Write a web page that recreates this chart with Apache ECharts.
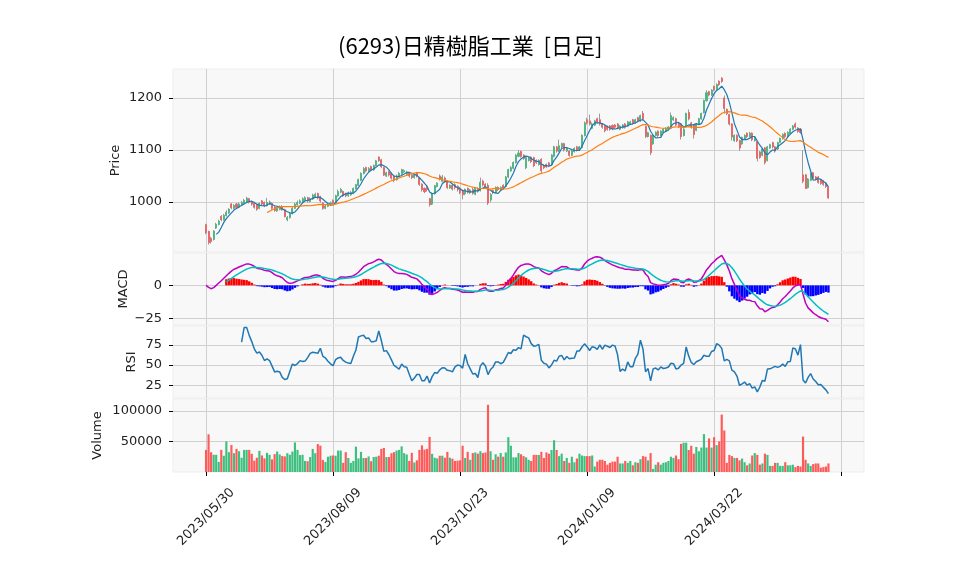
<!DOCTYPE html>
<html>
<head>
<meta charset="utf-8">
<script src="https://cdn.jsdelivr.net/npm/echarts@6/dist/echarts.min.js"></script>
<style>
  html, body { margin: 0; padding: 0; background: #fff; }
  #main { width: 958px; height: 575px; }
</style>
</head>
<body>
<div id="main"></div>
<script>
// 日足データ（2023/05/30 から 246 営業日）
const tickDates = ['2023/05/30', '2023/08/09', '2023/10/23', '2024/01/09', '2024/03/22'];
const tickEvery = 50; // 営業日ごとの目盛り

// [始値, 終値, 安値, 高値]
const ohlc = [
  [956,941,938,958],[943,922,918,945],[930,924,920,933],[928,944,926,946],[950,957,948,960],
  [957,963,955,966],[972,966,963,975],[966,974,964,977],[974,980,972,984],[979,986,977,988],
  [996,989,986,998],[988,993,986,996],[996,990,987,998],[990,996,988,999],[995,999,993,1002],
  [998,1003,996,1006],[1000,1007,998,1010],[1006,1000,997,1008],[1001,996,993,1003],[997,990,987,999],
  [994,986,983,996],[988,997,986,999],[1002,996,993,1004],[999,993,990,1001],[993,999,991,1008],
  [996,1000,994,1003],[997,988,985,999],[990,984,981,992],[983,988,981,991],[986,991,984,993],
  [991,985,983,994],[985,972,970,987],[966,970,963,973],[970,978,968,980],[978,988,976,990],
  [988,996,986,998],[995,999,993,1003],[998,1002,996,1005],[1000,1006,998,1009],[1004,1008,1002,1011],
  [1008,1002,999,1010],[1001,1006,999,1009],[1006,1013,1004,1016],[1010,1015,1008,1018],[1016,1008,1005,1018],
  [1010,1002,999,1012],[998,988,985,1000],[988,992,986,995],[992,995,990,998],[994,998,992,1001],
  [1003,998,995,1005],[999,1012,997,1014],[1012,1020,1010,1024],[1019,1024,1017,1027],[1020,1012,1010,1022],
  [1016,1012,1009,1018],[1012,1017,1010,1020],[1014,1018,1012,1021],[1017,1026,1015,1028],[1026,1033,1024,1035],
  [1032,1043,1030,1045],[1042,1055,1040,1057],[1055,1064,1053,1067],[1066,1060,1057,1068],[1060,1064,1058,1067],
  [1068,1062,1060,1070],[1062,1070,1060,1072],[1070,1079,1068,1081],[1086,1080,1077,1088],[1081,1068,1065,1083],
  [1066,1052,1050,1068],[1050,1056,1048,1058],[1058,1052,1049,1060],[1055,1046,1043,1057],[1050,1042,1038,1052],
  [1043,1050,1041,1053],[1049,1055,1047,1058],[1054,1062,1052,1064],[1058,1060,1056,1063],[1053,1057,1051,1060],
  [1056,1050,1047,1058],[1051,1047,1044,1053],[1047,1052,1045,1054],[1056,1050,1047,1058],[1046,1034,1031,1048],
  [1034,1024,1020,1036],[1026,1020,1017,1028],[1028,1024,1020,1031],[1006,995,991,1008],[996,1016,994,1018],
  [1016,1031,1014,1033],[1030,1036,1028,1038],[1050,1044,1041,1053],[1040,1048,1038,1052],[1046,1040,1037,1049],
  [1040,1028,1025,1042],[1027,1032,1025,1034],[1032,1025,1022,1034],[1033,1028,1024,1036],[1030,1024,1020,1032],
  [1026,1018,1015,1029],[1022,1014,1005,1024],[1016,1024,1013,1026],[1026,1019,1016,1028],[1018,1023,1015,1025],
  [1024,1017,1014,1027],[1015,1026,1013,1028],[1026,1021,1018,1028],[1022,1038,1020,1047],[1040,1033,1030,1043],
  [1034,1030,1027,1036],[1032,998,994,1036],[1004,1014,1000,1017],[1022,1018,1015,1024],[1018,1028,1016,1030],
  [1028,1024,1021,1030],[1023,1028,1021,1030],[1032,1027,1024,1034],[1030,1048,1028,1050],[1048,1062,1046,1064],
  [1060,1066,1058,1069],[1065,1076,1063,1078],[1076,1090,1074,1092],[1088,1094,1086,1100],[1097,1088,1085,1099],
  [1090,1084,1081,1092],[1066,1085,1063,1087],[1080,1084,1078,1087],[1086,1078,1075,1088],[1085,1070,1067,1087],
  [1080,1076,1073,1082],[1072,1080,1070,1082],[1082,1060,1056,1084],[1070,1066,1063,1072],[1072,1068,1065,1074],
  [1075,1070,1067,1077],[1072,1090,1070,1092],[1088,1106,1086,1108],[1106,1098,1095,1108],[1098,1108,1096,1120],
  [1106,1112,1104,1114],[1112,1100,1097,1114],[1098,1104,1096,1106],[1098,1090,1087,1100],[1090,1098,1088,1100],
  [1097,1103,1095,1105],[1106,1100,1097,1108],[1100,1106,1098,1108],[1105,1128,1103,1130],[1128,1152,1126,1155],
  [1158,1152,1149,1162],[1156,1150,1147,1168],[1142,1150,1140,1153],[1148,1156,1146,1158],[1160,1154,1151,1162],
  [1158,1150,1147,1170],[1150,1144,1141,1152],[1146,1137,1134,1148],[1145,1140,1137,1147],[1146,1140,1137,1148],
  [1147,1141,1138,1149],[1148,1144,1141,1150],[1150,1143,1140,1152],[1140,1146,1138,1148],[1143,1148,1141,1150],
  [1150,1144,1141,1152],[1146,1154,1144,1156],[1150,1154,1148,1156],[1158,1152,1149,1160],[1152,1158,1150,1160],
  [1162,1156,1153,1164],[1156,1166,1154,1168],[1170,1160,1157,1175],[1145,1126,1123,1147],[1126,1133,1124,1135],
  [1128,1095,1090,1130],[1112,1128,1110,1130],[1128,1134,1126,1136],[1136,1128,1125,1138],[1128,1136,1126,1138],
  [1134,1140,1132,1142],[1136,1142,1134,1144],[1140,1144,1138,1146],[1142,1166,1140,1172],[1158,1162,1156,1165],
  [1160,1148,1145,1162],[1150,1145,1142,1152],[1150,1126,1120,1152],[1128,1140,1126,1142],[1145,1170,1143,1172],
  [1172,1160,1157,1178],[1152,1144,1141,1154],[1148,1130,1122,1150],[1138,1150,1136,1152],[1150,1160,1148,1162],
  [1160,1170,1158,1172],[1172,1195,1170,1197],[1195,1210,1193,1215],[1212,1206,1203,1214],[1206,1215,1204,1217],
  [1222,1216,1213,1224],[1216,1226,1214,1228],[1232,1226,1223,1234],[1238,1232,1229,1240],[1200,1180,1170,1205],
  [1178,1170,1167,1180],[1168,1150,1147,1170],[1150,1125,1118,1152],[1118,1128,1116,1130],[1128,1118,1115,1130],
  [1118,1104,1098,1120],[1112,1124,1110,1126],[1122,1128,1120,1130],[1132,1126,1123,1134],[1126,1132,1124,1135],
  [1132,1120,1117,1134],[1118,1124,1116,1126],[1116,1084,1078,1118],[1096,1086,1083,1098],[1090,1102,1088,1104],
  [1104,1076,1072,1106],[1080,1106,1078,1108],[1104,1110,1102,1112],[1114,1106,1103,1116],[1106,1098,1095,1108],
  [1102,1114,1100,1116],[1115,1122,1113,1124],[1122,1130,1120,1132],[1132,1126,1123,1134],[1126,1134,1124,1136],
  [1132,1140,1130,1142],[1140,1146,1138,1148],[1150,1144,1141,1153],[1142,1136,1133,1144],[1140,1134,1131,1142],
  [1052,1040,1036,1100],[1052,1026,1025,1054],[1028,1044,1026,1046],[1042,1054,1040,1057],[1056,1046,1043,1058],
  [1048,1044,1041,1050],[1048,1038,1035,1050],[1042,1036,1033,1044],[1040,1034,1031,1042],[1036,1030,1027,1038],
  [1028,1008,1006,1030]
];

// 出来高
const volume = [
  36200,61700,32400,28200,28200,16500,36200,26600,50000,32400,
  44100,30800,37800,34000,23400,36200,36200,36200,29800,18600,
  23400,34600,27100,22300,31400,28200,20700,29300,33500,28700,
  26100,25500,30800,28200,33500,48400,36200,27700,28200,18100,
  17600,24500,37800,30800,45700,43100,19700,16500,25000,26600,
  27100,26600,35100,35100,15000,32400,22900,15000,18100,41500,
  22300,33000,22900,22900,25500,17600,24500,25000,26600,37800,
  39400,24500,24500,30800,32400,35100,36200,42000,30800,28700,
  18100,31400,15600,19100,36200,43600,36700,37800,57400,29800,
  23400,22300,26600,26600,23400,33000,23400,21800,18100,18600,
  19000,43000,23000,33000,20000,31000,32000,30000,34000,31000,
  32000,110000,34000,20000,29000,25000,31000,25000,32000,57000,
  43000,24000,24000,31000,29000,26000,24000,20000,18000,28000,
  28000,28000,33000,23000,32000,30000,36000,52000,36000,26000,
  30000,18000,23000,15000,25000,16000,22000,30000,27000,26000,
  26000,26000,27000,9000,17000,20000,20000,18000,12000,15000,
  17000,17000,25000,14000,14000,18000,15000,18000,11000,16000,
  15000,21000,26000,25000,19000,31000,5000,12000,16000,12000,
  15000,16000,18000,25000,23000,27000,21000,46000,48000,48000,
  36000,43000,30000,41000,34000,40000,62000,40000,55000,40000,
  57000,44000,50000,94000,68000,15000,28000,26000,23000,23000,
  19000,22000,16000,11000,14000,27000,31000,28000,12000,14000,
  30000,28000,10000,10000,15000,15000,10000,10000,16000,11000,
  11000,12000,8000,10000,9000,58000,20000,14000,10000,13000,
  14000,14000,7000,8000,9000,14000
];

const UP = '#3fbf7f', DOWN = '#ff5a5a';
const PAD = 13;           // 左側の余白（営業日数）
const SLOTS = 273;        // 表示する日数の枠（-13 ～ 259）

// 指標は終値から計算する
const closes = ohlc.map(d => d[1]);

function movingAverage(n) {
  const out = [];
  for (let i = n - 1; i < closes.length; i++) {
    let s = 0;
    for (let j = i - n + 1; j <= i; j++) s += closes[j];
    out.push([i + PAD, s / n]);
  }
  return out;
}

// 指数移動平均（初日の値から開始）
function ema(values, span) {
  const a = 2 / (span + 1);
  const out = [];
  let prev = values[0];
  values.forEach(v => {
    prev = prev + a * (v - prev);
    out.push(prev);
  });
  return out;
}

const ema12 = ema(closes, 12);
const ema26 = ema(closes, 26);
const macd = ema12.map((v, i) => v - ema26[i]);
const signal = ema(macd, 9);

const macdLine = macd.map((v, i) => [i + PAD, v]);
const signalLine = [], histBars = [];
for (let i = 8; i < macd.length; i++) {
  signalLine.push([i + PAD, signal[i]]);
  const h = macd[i] - signal[i];
  histBars.push({ value: [i + PAD, h], itemStyle: { color: h >= 0 ? '#ff0000' : '#0000ff' } });
}

const rsiLine = [];
for (let i = 14; i < closes.length; i++) {
  let g = 0, l = 0;
  for (let j = i - 13; j <= i; j++) {
    const d = closes[j] - closes[j - 1];
    if (d > 0) g += d; else l -= d;
  }
  rsiLine.push([i + PAD, 100 * g / (g + l)]);
}

const wickData = ohlc.map((d, i) => [i + PAD, d[0], d[1], d[2], d[3]]);
const bodyData = ohlc.map((d, i) => [i + PAD, d[0], d[1], Math.min(d[0], d[1]), Math.max(d[0], d[1])]);
const volBars = volume.map((v, i) => ({
  value: [i + PAD, v],
  itemStyle: { color: ohlc[i][1] >= ohlc[i][0] ? UP : DOWN }
}));

const xCats = [];
for (let i = -PAD; i < SLOTS - PAD; i++) xCats.push(String(i));

const onTick = (index) => index >= PAD && (index - PAD) % tickEvery === 0;
const FONT = 'DejaVu Sans';

function xAxisFor(gridIndex, bottom) {
  return {
    type: 'category',
    gridIndex: gridIndex,
    data: xCats,
    boundaryGap: false,
    axisLine: { show: false },
    axisTick: bottom ? { show: true, interval: onTick, length: 4, lineStyle: { color: '#000' } } : { show: false },
    axisLabel: bottom ? {
      show: true,
      interval: onTick,
      formatter: (value, index) => tickDates[(index - PAD) / tickEvery] || '',
      rotate: 45,
      align: 'center',
      verticalAlign: 'middle',
      margin: 45,
      fontFamily: FONT,
      fontSize: 13,
      color: '#222'
    } : { show: false },
    splitLine: { show: true, interval: onTick, lineStyle: { color: '#d0d0d0', width: 1 } }
  };
}

function yAxisFor(gridIndex, name, nameGap, min, max, ticks) {
  return {
    type: 'value',
    gridIndex: gridIndex,
    name: name,
    nameLocation: 'middle',
    nameGap: nameGap,
    nameMoveOverlap: false,
    nameTextStyle: { fontFamily: FONT, fontSize: 13, color: '#222' },
    min: min,
    max: max,
    axisLine: { show: false },
    axisTick: { show: true, length: 4, customValues: ticks, lineStyle: { color: '#000' } },
    axisLabel: {
      customValues: ticks, margin: 11, fontFamily: FONT, fontSize: 13, color: '#222',
      formatter: (v) => String(v).replace('-', '\u2212')
    },
    splitLine: { show: true, lineStyle: { color: '#d0d0d0', width: 1 } }
  };
}

const gridStyle = { left: 173, right: 94, show: true, backgroundColor: '#f8f8f8', borderColor: '#ededed', borderWidth: 1 };

const option = {
  animation: false,
  backgroundColor: '#fff',
  title: {
    text: '(6293)日精樹脂工業  [日足]',
    left: 333,
    top: 30,
    textStyle: { fontFamily: 'Noto Sans CJK JP', fontSize: 22, fontWeight: 'normal', color: '#000' }
  },
  grid: [
    Object.assign({ top: 69, height: 183 }, gridStyle),
    Object.assign({ top: 253, height: 72 }, gridStyle),
    Object.assign({ top: 326, height: 72 }, gridStyle),
    Object.assign({ top: 399, height: 73 }, gridStyle)
  ],
  xAxis: [xAxisFor(0, false), xAxisFor(1, false), xAxisFor(2, false), xAxisFor(3, true)],
  yAxis: [
    yAxisFor(0, 'Price', 51, 903.8, 1255.8, [1000, 1100, 1200]),
    yAxisFor(1, 'MACD', 43, -30, 24.5, [-25, 0]),
    yAxisFor(2, 'RSI', 35, 9, 98.5, [25, 50, 75]),
    yAxisFor(3, 'Volume', 69, 0, 119500, [50000, 100000])
  ],
  series: [
    {
      // ひげ（灰色）
      type: 'candlestick', xAxisIndex: 0, yAxisIndex: 0,
      data: wickData, encode: { x: 0, y: [1, 2, 3, 4] },
      barWidth: '60%',
      itemStyle: { color: '#9a9a9a', color0: '#9a9a9a', borderColor: '#9a9a9a', borderColor0: '#9a9a9a', borderWidth: 1 }
    },
    {
      // 実体
      type: 'candlestick', xAxisIndex: 0, yAxisIndex: 0,
      data: bodyData, encode: { x: 0, y: [1, 2, 3, 4] },
      barWidth: '60%',
      itemStyle: { color: UP, color0: DOWN, borderColor: UP, borderColor0: DOWN, borderWidth: 0.5 }
    },
    {
      type: 'line', xAxisIndex: 0, yAxisIndex: 0, data: movingAverage(5),
      showSymbol: false, lineStyle: { color: '#1f77b4', width: 1.2 }, z: 5
    },
    {
      type: 'line', xAxisIndex: 0, yAxisIndex: 0, data: movingAverage(25),
      showSymbol: false, lineStyle: { color: '#ff7f0e', width: 1.2 }, z: 5
    },
    {
      type: 'bar', xAxisIndex: 1, yAxisIndex: 1, data: histBars, barWidth: '95%'
    },
    {
      type: 'line', xAxisIndex: 1, yAxisIndex: 1, data: macdLine,
      showSymbol: false, lineStyle: { color: '#bf00bf', width: 1.5 }, z: 5
    },
    {
      type: 'line', xAxisIndex: 1, yAxisIndex: 1, data: signalLine,
      showSymbol: false, lineStyle: { color: '#00bfbf', width: 1.5 }, z: 5
    },
    {
      type: 'line', xAxisIndex: 2, yAxisIndex: 2, data: rsiLine,
      showSymbol: false, lineStyle: { color: '#1f77b4', width: 1.5 }
    },
    {
      type: 'bar', xAxisIndex: 3, yAxisIndex: 3, data: volBars, barWidth: '85%'
    }
  ]
};

const chart = echarts.init(document.getElementById('main'));
chart.setOption(option);
</script>
</body>
</html>
